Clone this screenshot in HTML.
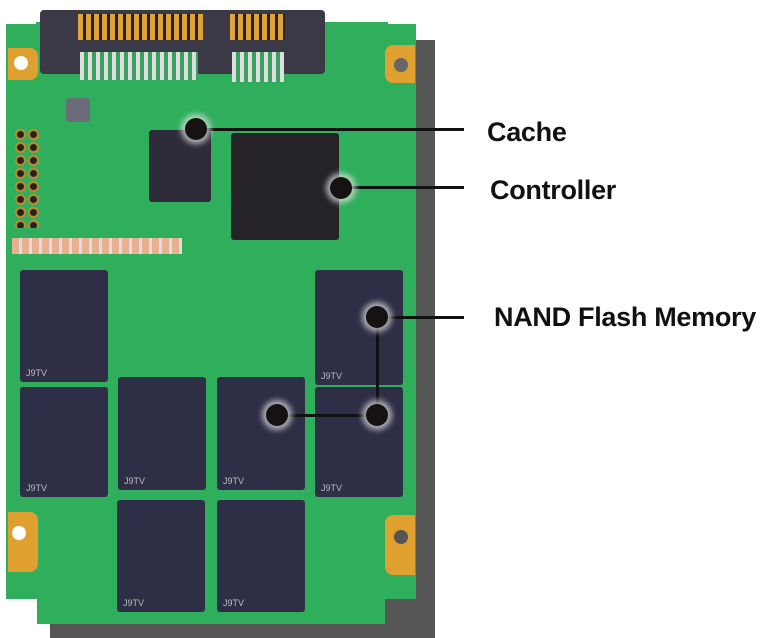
<!DOCTYPE html>
<html><head><style>
body{margin:0;width:779px;height:638px;background:#fff;position:relative;overflow:hidden;font-family:"Liberation Sans",sans-serif}
div{position:absolute;box-sizing:border-box}
.chip{background:#2f2e47;border-radius:3px}
.chip span{position:absolute;left:6px;bottom:4px;color:#bbb;font-size:9px}
.lbl{font-weight:bold;font-size:27px;color:#111;white-space:nowrap;letter-spacing:-0.3px}
.dot{width:22px;height:22px;border-radius:50%;background:#161212;box-shadow:0 0 6px 4px rgba(230,230,230,.7)}
</style></head><body>
<!-- shadow -->
<div style="left:50px;top:40px;width:385px;height:598px;background:#565656"></div>
<!-- board -->
<div style="left:6px;top:24px;width:410px;height:575px;background:#2fae5c"></div>
<div style="left:37px;top:560px;width:348px;height:64px;background:#2fae5c"></div>
<div style="left:36px;top:22px;width:352px;height:10px;background:#2fae5c"></div>
<!-- corner pads -->
<div style="left:8px;top:48px;width:30px;height:32px;background:#e0a030;border-radius:0 8px 8px 0"></div>
<div style="left:14px;top:56px;width:14px;height:14px;border-radius:50%;background:#fff"></div>
<div style="left:385px;top:45px;width:30px;height:38px;background:#e0a030;border-radius:8px 0 0 8px"></div>
<div style="left:394px;top:58px;width:14px;height:14px;border-radius:50%;background:#666"></div>
<div style="left:8px;top:512px;width:30px;height:60px;background:#e0a030;border-radius:0 8px 8px 0"></div>
<div style="left:12px;top:526px;width:14px;height:14px;border-radius:50%;background:#fff"></div>
<div style="left:385px;top:515px;width:30px;height:60px;background:#e0a030;border-radius:8px 0 0 8px"></div>
<div style="left:394px;top:530px;width:14px;height:14px;border-radius:50%;background:#555"></div>
<!-- connector -->
<div style="left:40px;top:10px;width:285px;height:64px;background:#3b3946;border-radius:4px"></div>
<div style="left:78px;top:14px;width:125px;height:26px;background:repeating-linear-gradient(90deg,#e2a23a 0 5px,#222 5px 8px)"></div>
<div style="left:230px;top:14px;width:55px;height:26px;background:repeating-linear-gradient(90deg,#e2a23a 0 5px,#222 5px 8px)"></div>
<div style="left:80px;top:52px;width:118px;height:28px;background:repeating-linear-gradient(90deg,#ddd 0 4px,#3aa060 4px 8px)"></div>
<div style="left:232px;top:52px;width:52px;height:30px;background:repeating-linear-gradient(90deg,#ddd 0 4px,#3aa060 4px 8px)"></div>
<!-- misc -->
<div style="left:66px;top:98px;width:24px;height:24px;background:#6b6b7a;border-radius:3px"></div>
<div style="left:12px;top:238px;width:170px;height:16px;background:repeating-linear-gradient(90deg,#e8b090 0 7px,#ddd 7px 10px)"></div>
<div style="left:14px;top:128px;width:26px;height:100px;background:radial-gradient(circle,#222 3px,#c98a2e 4px,#c98a2e 5px,transparent 6px) 0 0/13px 13px"></div>
<!-- cache / controller -->
<div class="chip" style="left:149px;top:130px;width:62px;height:72px;background:#2e2c3a"></div>
<div class="chip" style="left:231px;top:133px;width:108px;height:107px;background:#252328"></div>
<!-- NAND -->
<div class="chip" style="left:20px;top:270px;width:88px;height:112px"><span>J9TV</span></div>
<div class="chip" style="left:315px;top:270px;width:88px;height:115px"><span>J9TV</span></div>
<div class="chip" style="left:20px;top:387px;width:88px;height:110px"><span>J9TV</span></div>
<div class="chip" style="left:118px;top:377px;width:88px;height:113px"><span>J9TV</span></div>
<div class="chip" style="left:217px;top:377px;width:88px;height:113px"><span>J9TV</span></div>
<div class="chip" style="left:315px;top:387px;width:88px;height:110px"><span>J9TV</span></div>
<div class="chip" style="left:117px;top:500px;width:88px;height:112px"><span>J9TV</span></div>
<div class="chip" style="left:217px;top:500px;width:88px;height:112px"><span>J9TV</span></div>
<!-- lines -->
<div style="left:196px;top:128px;width:268px;height:3px;background:#111"></div>
<div style="left:340px;top:186px;width:124px;height:3px;background:#111"></div>
<div style="left:377px;top:316px;width:87px;height:3px;background:#111"></div>
<div style="left:376px;top:316px;width:3px;height:100px;background:#111"></div>
<div style="left:277px;top:414px;width:100px;height:3px;background:#111"></div>
<div class="dot" style="left:185px;top:118px"></div>
<div class="dot" style="left:330px;top:177px"></div>
<div class="dot" style="left:366px;top:306px"></div>
<div class="dot" style="left:366px;top:404px"></div>
<div class="dot" style="left:266px;top:404px"></div>
<!-- labels -->
<div class="lbl" style="left:487px;top:117px">Cache</div>
<div class="lbl" style="left:490px;top:175px">Controller</div>
<div class="lbl" style="left:494px;top:302px">NAND Flash Memory</div>
</body></html>
